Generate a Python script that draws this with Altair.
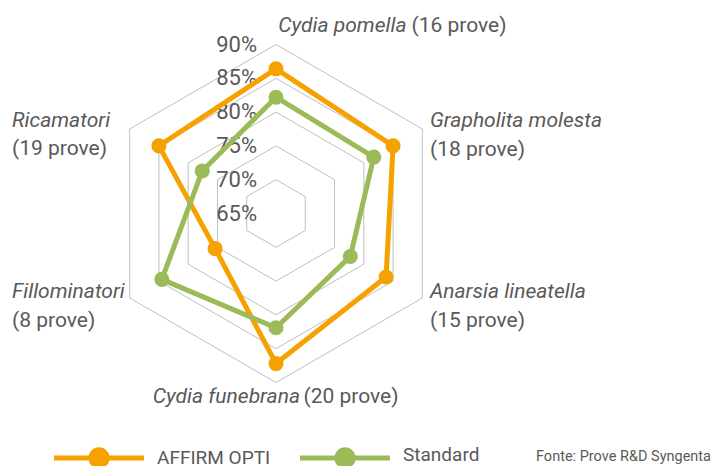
import altair as alt
import pandas as pd

# ---------------- data ----------------
CATEGORIES = ["Cydia pomella", "Grapholita molesta", "Anarsia lineatella",
              "Cydia funebrana", "Fillominatori", "Ricamatori"]
TRIALS = ["(16 prove)", "(18 prove)", "(15 prove)", "(20 prove)", "(8 prove)", "(19 prove)"]
SERIES = ["AFFIRM OPTI", "Standard"]
AFFIRM_OPTI = [86.4, 85.0, 83.8, 87.2, 75.4, 85.0]
STANDARD = [82.2, 81.7, 77.7, 81.9, 84.5, 77.6]
TICKS = [65, 70, 75, 80, 85, 90]
TICK_LABELS = ["65%", "70%", "75%", "80%", "85%", "90%"]
SOURCE = "Fonte: Prove R&D Syngenta"

# ---------------- style / layout ----------------
COLORS = ["#F5A200", "#9BBB59"]
TEXT = "#595959"
GRID = "#BFBFBF"
FONT = "Roboto"
W, H = 704, 458
CX, CY, R = 268, 205.5, 169
VMIN, VMAX = TICKS[0], TICKS[-1]
SPAN = VMAX - VMIN
N = len(CATEGORIES)

rows = []
for s, vals in zip(SERIES, [AFFIRM_OPTI, STANDARD]):
    for k in range(N + 1):
        i = k % N
        rows.append({"series": s, "category": CATEGORIES[i], "idx": i, "k": k, "value": vals[i]})
series_df = pd.DataFrame(rows)

grid_rows = []
for t in TICKS[1:]:
    for k in range(N + 1):
        grid_rows.append({"ring": t, "idx": k % N, "k": k, "value": t})
grid_df = pd.DataFrame(grid_rows)

tick_df = pd.DataFrame({"value": TICKS, "label": TICK_LABELS, "idx": [0] * len(TICKS)})

xs = alt.Scale(domain=[-SPAN, SPAN], range=[CX - R, CX + R], nice=False, zero=False)
ys = alt.Scale(domain=[-SPAN, SPAN], range=[CY + R, CY - R], nice=False, zero=False)
X = alt.X("px:Q", scale=xs, axis=None)
Y = alt.Y("py:Q", scale=ys, axis=None)


def polar(chart):
    return chart.transform_calculate(
        ang=f"datum.idx * 2 * PI / {N}",
        px=f"(datum.value - {VMIN}) * sin(datum.ang)",
        py=f"(datum.value - {VMIN}) * cos(datum.ang)",
    )


grid = polar(alt.Chart(grid_df)).mark_line(color=GRID, strokeWidth=1).encode(
    x=X, y=Y, detail="ring:N", order="k:Q")

ticks = polar(alt.Chart(tick_df)).mark_text(
    align="right", baseline="middle", dx=-19, fontSize=22, font=FONT, color=TEXT
).encode(x=X, y=Y, text="label:N")


def series_layers(i):
    base = polar(alt.Chart(series_df).transform_filter(alt.datum.series == SERIES[i]))
    line = base.mark_line(color=COLORS[i], strokeWidth=5, strokeJoin="round", strokeCap="round").encode(
        x=X, y=Y, order="k:Q")
    pts = base.transform_filter(alt.datum.k < N).mark_circle(
        color=COLORS[i], size=227, opacity=1).encode(x=X, y=Y)
    return [line, pts]


def label(text, x, y, align="left", italic=False, size=21):
    return alt.Chart(pd.DataFrame({"t": [text]})).mark_text(
        align=align, baseline="alphabetic", fontSize=size, font=FONT,
        fontStyle="italic" if italic else "normal", color=TEXT
    ).encode(x=alt.value(x), y=alt.value(y), text="t:N")


labels = [
    # top
    label(CATEGORIES[0], 398.5, 23.5, align="right", italic=True),
    label(TRIALS[0], 403.5, 23.5),
    # upper right
    label(CATEGORIES[1], 422, 119, italic=True),
    label(TRIALS[1], 422, 148),
    # lower right
    label(CATEGORIES[2], 422, 290, italic=True),
    label(TRIALS[2], 422, 319),
    # bottom
    label(CATEGORIES[3], 292, 395, align="right", italic=True),
    label(TRIALS[3], 295.5, 395),
    # lower left
    label(CATEGORIES[4], 4, 290, italic=True),
    label(TRIALS[4], 4, 319),
    # upper left
    label(CATEGORIES[5], 4, 119, italic=True),
    label(TRIALS[5], 4, 147),
]

one = pd.DataFrame({"a": [0]})
legend = []
LEG_X = [46, 292]
TXT_X = [149, 395]
TXT_Y = [456, 453]
for i, s in enumerate(SERIES):
    legend.append(alt.Chart(one).mark_rule(color=COLORS[i], strokeWidth=5).encode(
        x=alt.value(LEG_X[i]), x2=alt.value(LEG_X[i] + 90), y=alt.value(450)))
    legend.append(alt.Chart(one).mark_circle(color=COLORS[i], size=452, opacity=1).encode(
        x=alt.value(LEG_X[i] + 45), y=alt.value(450)))
    legend.append(label(s, TXT_X[i], TXT_Y[i], size=19))
legend.append(label(SOURCE, 703, 452.5, align="right", size=14.5))

layers = [grid, ticks] + series_layers(0) + series_layers(1) + labels + legend

chart = alt.layer(*layers).properties(
    width=W, height=H, padding=0, autosize="none"
).configure_view(stroke=None)

chart.save("out.html", embed_options={"renderer": "svg", "actions": False})
